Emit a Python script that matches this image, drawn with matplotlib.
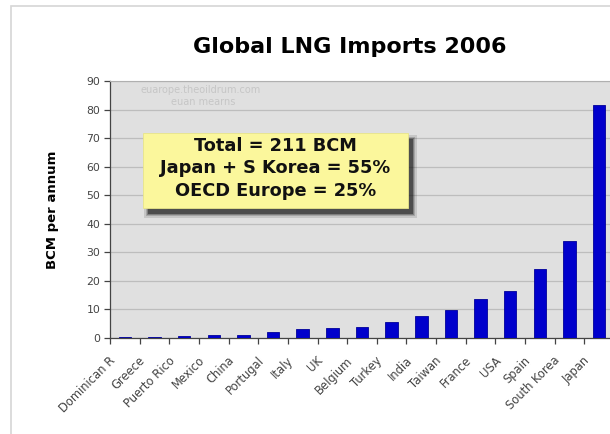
import numpy as np
import matplotlib
matplotlib.use('Agg')
import matplotlib.pyplot as plt
from matplotlib.patches import Rectangle

# LNG imports 2006, billion cubic metres
countries = ['Dominican R', 'Greece', 'Puerto Rico', 'Mexico', 'China',
             'Portugal', 'Italy', 'UK', 'Belgium', 'Turkey', 'India',
             'Taiwan', 'France', 'USA', 'Spain', 'South Korea', 'Japan']
bcm = [0.3, 0.4, 0.7, 1.0, 1.0, 2.2, 3.0, 3.5, 4.0, 5.7, 7.8,
       9.9, 13.7, 16.5, 24.3, 34.1, 81.7]
y_ticks = [0, 10, 20, 30, 40, 50, 60, 70, 80, 90]
summary = ['Total = 211 BCM', 'Japan + S Korea = 55%', 'OECD Europe = 25%']

BAR_COLOR = '#0000CC'
BAR_EDGE = '#00009A'
PLOT_BG = '#E0E0E0'
GRID_COLOR = '#BDBDBD'
BOX_COLOR = '#FBF79C'

fig = plt.figure(figsize=(6.1, 4.34), dpi=100)
fig.patch.set_facecolor('white')

# outer frame of the chart
fig.patches.append(Rectangle((11 / 610, -0.1), 1.2, 1 - 6 / 434 + 0.1,
                             transform=fig.transFigure, fill=False,
                             edgecolor='#D6D6D6', linewidth=1.2))

ax = fig.add_axes([110 / 610, 1 - 338 / 434, 504 / 610, 257 / 434])
ax.set_facecolor(PLOT_BG)

x = np.arange(len(countries))
ax.bar(x, bcm, width=0.42, color=BAR_COLOR, edgecolor=BAR_EDGE,
       linewidth=0.6, zorder=3)

ax.set_xlim(-0.5, len(countries) - 0.5)
ax.set_ylim(0, 90)
ax.set_yticks(y_ticks)
ax.yaxis.grid(True, color=GRID_COLOR, linewidth=0.9, zorder=0)
ax.set_axisbelow(True)

# ticks sit between the categories
ax.set_xticks(np.arange(len(countries) + 1) - 0.5)
ax.set_xticklabels([])
ax.tick_params(axis='x', length=4, width=0.9, color='#444444',
               direction='out')
ax.tick_params(axis='y', length=4, width=0.9, color='#444444',
               direction='out', labelsize=7.8, labelcolor='#444444', pad=3)

# slanted category names, tucked under and left of each bar
for i, name in enumerate(countries):
    ax.annotate(name, xy=(x[i], 0), xycoords=('data', 'axes fraction'),
                xytext=(-11.5, -11.5), textcoords='offset points',
                rotation=45, ha='right', va='top', rotation_mode='anchor',
                fontsize=8.3, color='#444444', annotation_clip=False)

for side in ['left', 'bottom']:
    ax.spines[side].set_color('#444444')
    ax.spines[side].set_linewidth(0.9)
ax.spines['top'].set_color('#B0B0B0')
ax.spines['right'].set_visible(False)

ax.set_ylabel('BCM per annum', fontsize=9.5, fontweight='bold', labelpad=20)
fig.text(0.574, 1 - 47 / 434, 'Global LNG Imports 2006', ha='center',
         va='center', fontsize=16, fontweight='bold')

# watermark
ax.text(0.18, 0.965, 'euarope.theoildrum.com', transform=ax.transAxes,
        ha='center', va='center', fontsize=7, color='#C6C6C6')
ax.text(0.185, 0.918, 'euan mearns', transform=ax.transAxes,
        ha='center', va='center', fontsize=7, color='#C6C6C6')

# summary box with soft drop shadow
bx0, bx1 = (143 - 110) / 504, (408 - 110) / 504
by0, by1 = (338 - 208) / 257, (338 - 133) / 257
dx, dy = 5 / 504, -6 / 257
for k, a in enumerate([0.12, 0.18, 0.25, 0.45]):
    grow = (3 - k) * 1.2
    ax.add_patch(Rectangle((bx0 + dx - grow / 504, by0 + dy - grow / 257),
                           bx1 - bx0 + 2 * grow / 504,
                           by1 - by0 + 2 * grow / 257,
                           transform=ax.transAxes, facecolor='#101010',
                           edgecolor='none', alpha=a, zorder=5))
ax.add_patch(Rectangle((bx0, by0), bx1 - bx0, by1 - by0,
                       transform=ax.transAxes, facecolor=BOX_COLOR,
                       edgecolor='#E8E48A', linewidth=0.6, zorder=6))
for i, line in enumerate(summary):
    ax.text((bx0 + bx1) / 2, (338 - (146 + i * 22.5)) / 257, line,
            transform=ax.transAxes, ha='center', va='center',
            fontsize=12.8, fontweight='bold', color='#111111', zorder=7)

fig.savefig('out.png', dpi=100, facecolor='white')
